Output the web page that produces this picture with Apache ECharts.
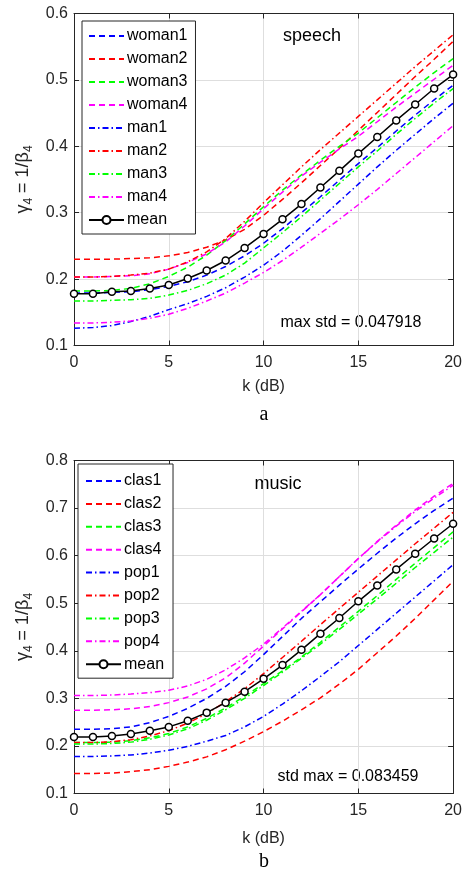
<!DOCTYPE html>
<html>
<head>
<meta charset="utf-8">
<script src="https://cdn.jsdelivr.net/npm/echarts@6/dist/echarts.min.js"></script>
<style>
html,body{margin:0;padding:0;background:#fff;}
#c{width:465px;height:874px;}
</style>
</head>
<body>
<div id="c"></div>
<script>
// ---------- data ----------
const k = [0,1,2,3,4,5,6,7,8,9,10,11,12,13,14,15,16,17,18,19,20];
const xTicks = [0,5,10,15,20];
const yTicksSpeech = [0.1,0.2,0.3,0.4,0.5,0.6];
const yTicksMusic = [0.1,0.2,0.3,0.4,0.5,0.6,0.7,0.8];

// speech (panel a)
const woman1 = [0.179,0.179,0.180,0.181,0.184,0.189,0.196,0.206,0.219,0.235,0.254,0.276,0.300,0.324,0.349,0.374,0.398,0.423,0.447,0.470,0.492];
const woman2 = [0.230,0.230,0.230,0.231,0.232,0.235,0.240,0.248,0.259,0.275,0.296,0.320,0.345,0.371,0.397,0.424,0.451,0.478,0.505,0.531,0.558];
const woman3 = [0.182,0.182,0.183,0.186,0.193,0.204,0.218,0.236,0.258,0.283,0.309,0.334,0.357,0.379,0.400,0.420,0.443,0.466,0.489,0.511,0.532];
const woman4 = [0.203,0.203,0.204,0.205,0.208,0.215,0.225,0.238,0.256,0.280,0.306,0.331,0.355,0.376,0.396,0.415,0.437,0.459,0.480,0.501,0.522];
const man1   = [0.126,0.127,0.130,0.136,0.144,0.154,0.163,0.174,0.187,0.203,0.221,0.242,0.266,0.291,0.317,0.343,0.369,0.394,0.418,0.442,0.465];
const man2   = [0.203,0.203,0.204,0.206,0.209,0.215,0.226,0.241,0.261,0.287,0.315,0.342,0.369,0.395,0.420,0.445,0.470,0.495,0.520,0.544,0.568];
const man3   = [0.167,0.167,0.168,0.169,0.171,0.176,0.183,0.193,0.206,0.224,0.247,0.270,0.294,0.319,0.344,0.369,0.393,0.418,0.442,0.465,0.487];
const man4   = [0.134,0.134,0.135,0.137,0.141,0.147,0.156,0.167,0.179,0.194,0.210,0.228,0.248,0.269,0.290,0.312,0.335,0.359,0.383,0.407,0.431];
const meanSpeech = [0.178,0.178,0.181,0.182,0.186,0.191,0.201,0.213,0.228,0.247,0.268,0.290,0.313,0.338,0.363,0.389,0.414,0.439,0.463,0.487,0.508];

// music (panel b)
const clas1 = [0.235,0.235,0.236,0.240,0.249,0.262,0.279,0.300,0.325,0.356,0.392,0.430,0.468,0.503,0.538,0.572,0.605,0.637,0.667,0.695,0.721];
const clas2 = [0.142,0.142,0.143,0.146,0.150,0.157,0.166,0.177,0.192,0.210,0.230,0.252,0.276,0.301,0.330,0.361,0.396,0.431,0.468,0.507,0.546];
const clas3 = [0.207,0.207,0.208,0.211,0.217,0.226,0.240,0.258,0.280,0.304,0.331,0.358,0.387,0.418,0.450,0.483,0.516,0.550,0.584,0.617,0.650];
const clas4 = [0.275,0.275,0.276,0.278,0.283,0.291,0.303,0.320,0.343,0.374,0.410,0.446,0.482,0.518,0.556,0.594,0.630,0.664,0.696,0.725,0.752];
const pop1  = [0.178,0.178,0.179,0.181,0.185,0.191,0.199,0.210,0.222,0.240,0.262,0.288,0.316,0.346,0.377,0.411,0.445,0.479,0.513,0.547,0.581];
const pop2  = [0.207,0.207,0.209,0.213,0.221,0.232,0.248,0.268,0.293,0.320,0.352,0.386,0.420,0.455,0.489,0.523,0.557,0.591,0.625,0.658,0.691];
const pop3  = [0.204,0.204,0.205,0.208,0.214,0.223,0.236,0.254,0.276,0.300,0.327,0.355,0.384,0.414,0.445,0.477,0.509,0.542,0.575,0.607,0.639];
const pop4  = [0.306,0.306,0.307,0.309,0.312,0.317,0.326,0.340,0.360,0.385,0.414,0.448,0.483,0.518,0.556,0.594,0.629,0.662,0.693,0.721,0.748];
const meanMusic = [0.219,0.219,0.221,0.225,0.232,0.240,0.253,0.270,0.291,0.314,0.341,0.370,0.402,0.436,0.469,0.504,0.537,0.571,0.604,0.636,0.667];

const speechNames = ['woman1','woman2','woman3','woman4','man1','man2','man3','man4','mean'];
const musicNames  = ['clas1','clas2','clas3','clas4','pop1','pop2','pop3','pop4','mean'];

// ---------- styling ----------
const FONT = "'Liberation Sans', Arial, Helvetica, sans-serif";
const AX = '#262626';
const GRIDC = '#dedede';
const DASH = [6,4];
const DASHDOT = [6,3,1.5,3];
const COLORS = ['#0000ff','#ff0000','#00ff00','#ff00ff'];

function pairs(arr){ return k.map((x,i)=>[x,arr[i]]); }
function lineSeries(name, arr, color, dash, idx){
  return {
    type:'line', name:name, xAxisIndex:idx, yAxisIndex:idx,
    data:pairs(arr), showSymbol:false, symbol:'none', animation:false,
    lineStyle:{color:color, width:1.5, type:dash},
    itemStyle:{color:'rgba(0,0,0,0)', borderColor:'rgba(0,0,0,0)', borderWidth:0},
    z:2
  };
}
function meanSeries(arr, idx){
  return {
    type:'line', name:'mean', xAxisIndex:idx, yAxisIndex:idx,
    data:pairs(arr), symbol:'circle', symbolSize:7, showSymbol:true, animation:false,
    lineStyle:{color:'#000', width:1.5, type:'solid'},
    itemStyle:{color:'#fff', borderColor:'#000', borderWidth:1.5},
    z:5
  };
}

const sSeries = [woman1,woman2,woman3,woman4,man1,man2,man3,man4];
const mSeries = [clas1,clas2,clas3,clas4,pop1,pop2,pop3,pop4];
const series = [];
sSeries.forEach((a,i)=>series.push(lineSeries(speechNames[i], a, COLORS[i%4], i<4?DASH:DASHDOT, 0)));
series.push(meanSeries(meanSpeech,0));
mSeries.forEach((a,i)=>series.push(lineSeries(musicNames[i], a, COLORS[i%4], i<4?DASH:DASHDOT, 1)));
series.push(meanSeries(meanMusic,1));

const yName = '{g|γ}{s|4}{n| = 1/}{g|β}{s|4}';
const yNameRich = {
  g:{fontSize:18, fontFamily:FONT, color:AX, lineHeight:24, verticalAlign:'middle'},
  n:{fontSize:18, fontFamily:FONT, color:AX, lineHeight:24, verticalAlign:'middle'},
  s:{fontSize:12, fontFamily:FONT, color:AX, lineHeight:12, verticalAlign:'bottom'}
};

function xAxisMain(idx, nameGap){
  return {
    type:'value', gridIndex:idx, min:0, max:20, interval:5, position:'bottom',
    name:'k (dB)', nameLocation:'middle', nameGap:nameGap,
    nameTextStyle:{fontSize:16, fontFamily:FONT, color:AX},
    axisLine:{show:true, onZero:false, lineStyle:{color:AX, width:1}},
    axisTick:{show:true, inside:true, length:5, lineStyle:{color:AX}},
    axisLabel:{fontSize:16, fontFamily:FONT, color:AX, margin:9},
    splitLine:{show:true, lineStyle:{color:GRIDC, width:1}}
  };
}
function xAxisTop(idx){
  return {
    type:'value', gridIndex:idx, min:0, max:20, interval:5, position:'top',
    axisLine:{show:true, onZero:false, lineStyle:{color:AX, width:1}},
    axisTick:{show:true, inside:true, length:5, lineStyle:{color:AX}},
    axisLabel:{show:false}, splitLine:{show:false}
  };
}
function yAxisMain(idx, max){
  return {
    type:'value', gridIndex:idx, min:0.1, max:max, interval:0.1, position:'left',
    name:yName, nameLocation:'middle', nameGap:34, nameRotate:90,
    nameTextStyle:{rich:yNameRich},
    axisLine:{show:true, onZero:false, lineStyle:{color:AX, width:1}},
    axisTick:{show:true, inside:true, length:5, lineStyle:{color:AX}},
    axisLabel:{fontSize:16, fontFamily:FONT, color:AX, margin:6, formatter:v=>v.toFixed(1)},
    splitLine:{show:true, lineStyle:{color:GRIDC, width:1}}
  };
}
function yAxisRight(idx, max){
  return {
    type:'value', gridIndex:idx, min:0.1, max:max, interval:0.1, position:'right',
    axisLine:{show:true, onZero:false, lineStyle:{color:AX, width:1}},
    axisTick:{show:true, inside:true, length:5, lineStyle:{color:AX}},
    axisLabel:{show:false}, splitLine:{show:false}
  };
}

const option = {
  backgroundColor:'#fff',
  animation:false,
  grid:[
    {left:74, top:13.5, width:380, height:332, containLabel:false},
    {left:74, top:460.5, width:380, height:333, containLabel:false}
  ],
  xAxis:[ xAxisMain(0, 33), xAxisMain(1, 37), xAxisTop(0), xAxisTop(1) ],
  yAxis:[ yAxisMain(0, 0.6), yAxisMain(1, 0.8), yAxisRight(0, 0.6), yAxisRight(1, 0.8) ],
  legend:[
    {
      data:speechNames, orient:'vertical', left:82, top:21,
      padding:[7,8,6,6], itemWidth:35, itemHeight:10, itemGap:7.0,
      borderColor:AX, borderWidth:1, backgroundColor:'#fff',
      textStyle:{fontSize:16, fontFamily:FONT, color:'#000', padding:[0,0,0,-2]},
      selectedMode:false
    },
    {
      data:musicNames, orient:'vertical', left:78, top:464,
      padding:[9,9,6,7], itemWidth:35, itemHeight:10, itemGap:6.9,
      borderColor:AX, borderWidth:1, backgroundColor:'#fff',
      textStyle:{fontSize:16, fontFamily:FONT, color:'#000', padding:[0,0,0,-2]},
      selectedMode:false
    }
  ],
  graphic:[
    {type:'text', style:{text:'speech', x:312, y:36, align:'center', verticalAlign:'middle', font:"18px 'Liberation Sans', Arial, sans-serif", fill:'#000'}},
    {type:'text', style:{text:'max std = 0.047918', x:351, y:322.5, align:'center', verticalAlign:'middle', font:"16px 'Liberation Sans', Arial, sans-serif", fill:'#000'}},
    {type:'text', style:{text:'music', x:278, y:484, align:'center', verticalAlign:'middle', font:"18px 'Liberation Sans', Arial, sans-serif", fill:'#000'}},
    {type:'text', style:{text:'std max = 0.083459', x:348, y:777, align:'center', verticalAlign:'middle', font:"16px 'Liberation Sans', Arial, sans-serif", fill:'#000'}},
    {type:'text', style:{text:'a', x:264, y:415, align:'center', verticalAlign:'middle', font:"20px 'Liberation Serif', 'Times New Roman', serif", fill:'#000'}},
    {type:'text', style:{text:'b', x:264, y:862, align:'center', verticalAlign:'middle', font:"20px 'Liberation Serif', 'Times New Roman', serif", fill:'#000'}}
  ],
  series:series
};

const chart = echarts.init(document.getElementById('c'), null, {renderer:'canvas'});
chart.setOption(option);
</script>
</body>
</html>
